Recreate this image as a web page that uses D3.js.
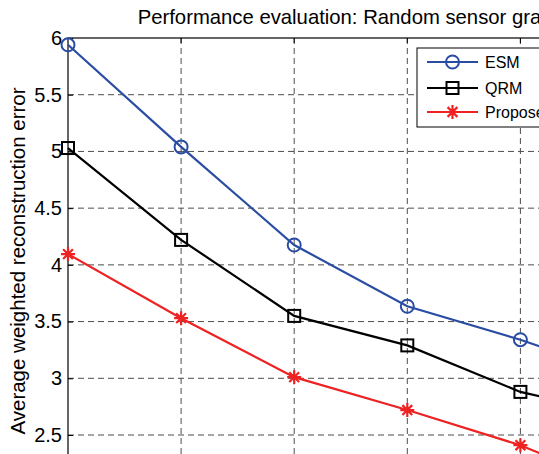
<!DOCTYPE html>
<html><head><meta charset="utf-8">
<script src="https://cdn.jsdelivr.net/npm/d3@7"></script>
<style>body{margin:0;background:#fff;overflow:hidden}svg{display:block}</style>
</head><body>
<script>
// Data (x positions are sample indices; no x tick labels visible in the crop)
const xIndex = [1, 2, 3, 4, 5, 6];
const esm      = [5.94, 5.04, 4.175, 3.635, 3.34, 3.00];
const qrm      = [5.03, 4.22, 3.55, 3.29, 2.88, 2.65];
const proposed = [4.095, 3.53, 3.01, 2.72, 2.41, 2.00];
const yTicks = [2.5, 3, 3.5, 4, 4.5, 5, 5.5, 6];
const seriesNames = ["ESM", "QRM", "Proposed"];
const titleText = "Performance evaluation: Random sensor graph";
const yLabel = "Average weighted reconstruction error";

(function () {
const W = 539, H = 454;
const svg = d3.select("body").append("svg").attr("width", W).attr("height", H);
const font = "'Liberation Sans', Arial, Helvetica, sans-serif";

const pL = 68, pT = 38;
const x = d3.scaleLinear().domain([1, 6]).range([pL, pL + 113.1 * 5]);
const y = d3.scaleLinear().domain([2, 6]).range([pT + 113.43 * 4, pT]);
const pR = x(6), pB = y(2);

// grid
const g = svg.append("g");
g.selectAll(".vg").data(xIndex.slice(1, -1)).enter().append("line")
  .attr("x1", d => x(d)).attr("x2", d => x(d)).attr("y1", pT).attr("y2", pB)
  .attr("stroke", "#4d4d4d").attr("stroke-width", 1).attr("stroke-dasharray", "6,4");
g.selectAll(".hg").data(yTicks.filter(d => d > 2 && d < 6)).enter().append("line")
  .attr("x1", pL).attr("x2", pR).attr("y1", d => y(d)).attr("y2", d => y(d))
  .attr("stroke", "#4d4d4d").attr("stroke-width", 1).attr("stroke-dasharray", "6,4");

// axes (box)
svg.append("rect").attr("x", pL).attr("y", pT).attr("width", pR - pL).attr("height", pB - pT)
  .attr("fill", "none").attr("stroke", "#000").attr("stroke-width", 1.2);

const yAxis = d3.axisLeft(y).tickValues(yTicks).tickSize(-5).tickPadding(6).tickFormat(d3.format("~g"));
const ya = svg.append("g").attr("transform", `translate(${pL},0)`).call(yAxis);
ya.select(".domain").remove();
ya.selectAll(".tick line").attr("stroke", "#000");
ya.selectAll(".tick text").attr("font-family", font).attr("font-size", 20).attr("fill", "#000");

// top ticks
svg.selectAll(".tt").data(xIndex.slice(1, -1)).enter().append("line")
  .attr("x1", d => x(d)).attr("x2", d => x(d)).attr("y1", pT).attr("y2", pT + 5)
  .attr("stroke", "#000");

// title & ylabel
svg.append("text").attr("x", (pL + pR) / 2).attr("y", 24).attr("text-anchor", "middle")
  .attr("font-family", font).attr("font-size", 20.3).attr("fill", "#000").text(titleText);
svg.append("text").attr("transform", "translate(25,261) rotate(-90)").attr("text-anchor", "middle")
  .attr("font-family", font).attr("font-size", 20.5).attr("fill", "#000").text(yLabel);

const colors = ["#2a4da3", "#000000", "#ee2222"];
const data = [esm, qrm, proposed];
const line = d3.line().x((d, i) => x(xIndex[i])).y(d => y(d));

function marker(sel, type, color) {
  if (type === 0) {
    sel.append("circle").attr("r", 6.5).attr("fill", "none").attr("stroke", color).attr("stroke-width", 2);
  } else if (type === 1) {
    sel.append("rect").attr("x", -6).attr("y", -6).attr("width", 12).attr("height", 12)
      .attr("fill", "none").attr("stroke", color).attr("stroke-width", 2);
  } else {
    const r = 7;
    const p = `M${-r},0L${r},0M0,${-r}L0,${r}M${-r*0.7},${-r*0.7}L${r*0.7},${r*0.7}M${-r*0.7},${r*0.7}L${r*0.7},${-r*0.7}`;
    sel.append("path").attr("d", p).attr("stroke", color).attr("stroke-width", 2.2).attr("fill", "none");
  }
}

data.forEach((s, k) => {
  svg.append("path").attr("d", line(s)).attr("fill", "none").attr("stroke", colors[k]).attr("stroke-width", 2.2);
  s.forEach((v, i) => {
    const m = svg.append("g").attr("transform", `translate(${x(xIndex[i])},${y(v)})`);
    marker(m, k, colors[k]);
  });
});

// legend
const lg = svg.append("g");
lg.append("rect").attr("x", 417).attr("y", 48).attr("width", 150).attr("height", 79)
  .attr("fill", "#fff").attr("stroke", "#000").attr("stroke-width", 1);
const ly = [62, 88, 112];
seriesNames.forEach((n, k) => {
  lg.append("line").attr("x1", 427).attr("x2", 478).attr("y1", ly[k]).attr("y2", ly[k])
    .attr("stroke", colors[k]).attr("stroke-width", 2.2);
  marker(lg.append("g").attr("transform", `translate(452.5,${ly[k]})`), k, colors[k]);
  lg.append("text").attr("x", 485).attr("y", ly[k] + 6).attr("font-family", font).attr("font-size", 16)
    .attr("fill", "#000").text(n);
});
})();
</script>
</body></html>
